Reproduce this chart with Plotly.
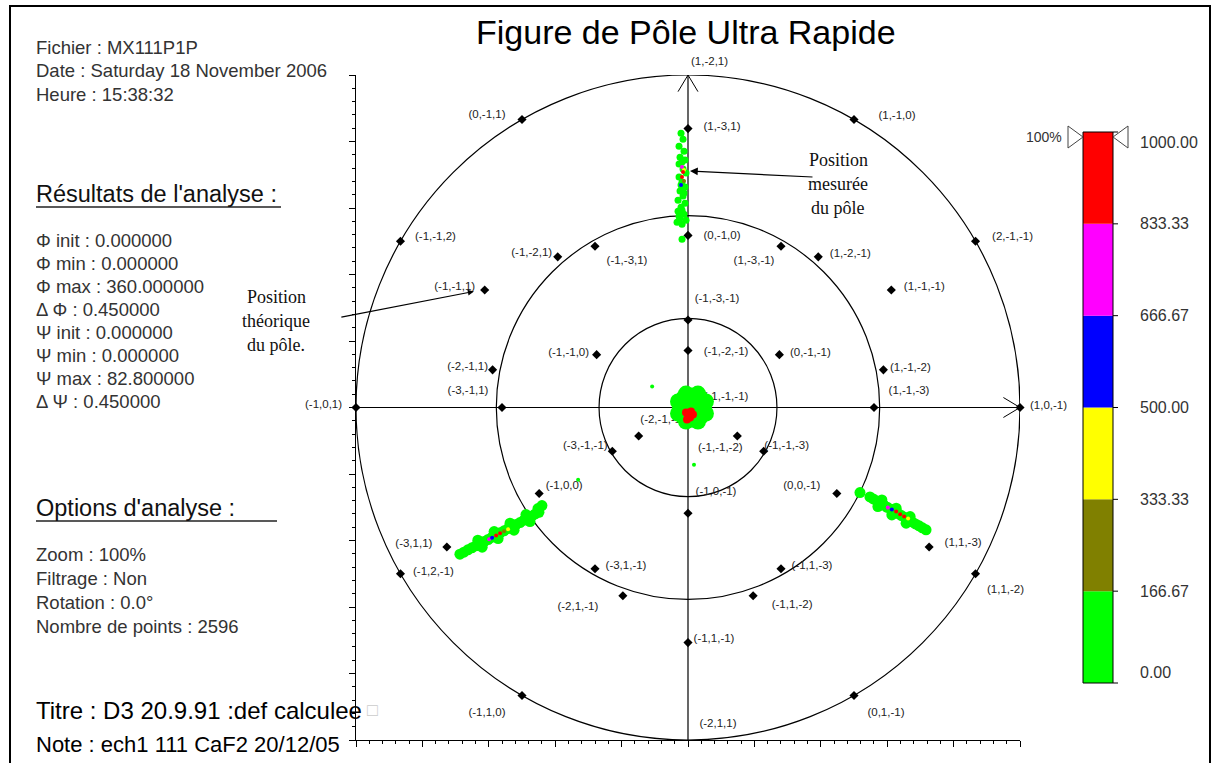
import numpy as np
import plotly.graph_objects as go

# ---------------------------------------------------------------- page geometry
W, H = 1220, 763
ML, MR, MT, MB = 356, 200, 75, 23
R = 100.0                      # radius of the primitive circle in data units
SCALE = (W - ML - MR) / (2 * R)  # pixels per data unit


def px(xp):
    """pixel x -> paper x"""
    return (xp - ML) / (W - ML - MR)


def py(yp):
    """pixel y -> paper y"""
    return (H - MB - yp) / (H - MT - MB)


FONT = "Liberation Sans, Arial, sans-serif"
SERIF = "Liberation Serif, Times New Roman, serif"

# ---------------------------------------------------------------- data
# projection frame: right, up and centre directions of the pole figure
axis_right = (1, 0, -1)
axis_up = (1, -2, 1)
axis_centre = (-1, -1, -1)

# cone angles of the reference circles (degrees)
cone_angles = [30, 60, 90]

# theoretical poles (Miller indices) and the text written next to them
pole_hkl = [
    (1, -2, 1), (0, -1, 1), (1, -1, 0), (1, -3, 1), (-1, -1, 2), (2, -1, -1),
    (-1, -2, 1), (-1, -3, 1), (0, -1, 0), (1, -3, -1), (1, -2, -1), (-1, -1, 1),
    (1, -1, -1), (-1, -3, -1), (-1, -1, 0), (-1, -2, -1), (0, -1, -1), (-2, -1, 1),
    (1, -1, -2), (-3, -1, 1), (-1, -1, -1), (1, -1, -3), (-1, 0, 1), (1, 0, -1),
    (-2, -1, -1), (-3, -1, -1), (-1, -1, -2), (-1, -1, -3), (-1, 0, 0), (0, 0, -1),
    (-1, 0, -1), (-3, 1, 1), (1, 1, -3), (-2, 1, 1), (1, 1, -2), (-3, 1, -1),
    (-1, 1, -3), (-2, 1, -1), (-1, 1, -2), (-1, 1, -1), (-1, 1, 0), (0, 1, -1),
    (-1, 2, -1),
]
pole_text = [
    "(1,-2,1)", "(0,-1,1)", "(1,-1,0)", "(1,-3,1)", "(-1,-1,2)", "(2,-1,-1)",
    "(-1,-2,1)", "(-1,-3,1)", "(0,-1,0)", "(1,-3,-1)", "(1,-2,-1)", "(-1,-1,1)",
    "(1,-1,-1)", "(-1,-3,-1)", "(-1,-1,0)", "(-1,-2,-1)", "(0,-1,-1)", "(-2,-1,1)",
    "(1,-1,-2)", "(-3,-1,1)", "(-1,-1,-1)", "(1,-1,-3)", "(-1,0,1)", "(1,0,-1)",
    "(-2,-1,-1)", "(-3,-1,-1)", "(-1,-1,-2)", "(-1,-1,-3)", "(-1,0,0)", "(0,0,-1)",
    "(-1,0,-1)", "(-3,1,1)", "(1,1,-3)", "(-1,2,-1)", "(1,1,-2)", "(-3,1,-1)",
    "(-1,1,-3)", "(-2,1,-1)", "(-1,1,-2)", "(-1,1,-1)", "(-1,1,0)", "(0,1,-1)",
    "(-2,1,1)",
]

# measured intensities -- north pole streak
top_x = [-2.1, -1.5, -2.7, -1.2, -2.4, -0.9, -2.7, -1.5, -0.6, -2.7, -1.8, -0.9, -2.4, -1.5, -3.0,
         -0.9, -2.1, -3.0, -1.2, -2.4, -3.3, -1.8, -0.6, -1.8, -1.8, -2.1, -1.2, -1.8, -2.7]
top_y = [82.5, 80.7, 78.6, 77.1, 75.3, 74.4, 73.2, 71.7, 70.5, 69.3, 67.8, 66.3, 65.1, 63.6, 62.3,
         61.4, 60.2, 59.0, 58.1, 56.9, 55.7, 55.1, 56.3, 50.6, 73.8, 66.9, 64.5, 59.3, 57.5]
top_v = [40, 75, 60, 110, 95, 130, 120, 150, 85, 140, 155, 120, 100, 135, 70,
         90, 115, 80, 105, 65, 45, 60, 50, 20, 145, 150, 125, 95, 70]
top_core_x = [-1.8, -1.2, -1.5, -1.8, -1.2, -2.1]
top_core_y = [72.3, 71.4, 70.8, 69.3, 68.1, 66.9]
top_core_v = [750, 420, 900, 920, 260, 580]

# centre pole
mid_x = [1.2, -1.5, 3.9, -1.5, 3.9, 1.2, 1.2, -2.4, 4.8, -0.6, 3.0, -0.6, 3.0, -3.0, 5.4, -3.0, 5.4,
         0.0, 2.4, 0.0, 2.4]
mid_y = [0.0, 2.7, 2.7, -2.7, -2.7, 3.6, -3.6, 0.0, 0.0, 4.2, 4.2, -4.2, -4.2, 1.8, 1.8, -1.8, -1.8,
         1.2, 1.2, -1.2, -1.2]
mid_v = [160, 150, 140, 155, 130, 120, 145, 150, 110, 90, 100, 120, 95, 80, 70, 90, 60,
         140, 135, 150, 145]
mid_core_x = [-0.6, 0.6, -0.3, 0.9, 0.0, 1.5]
mid_core_y = [-1.5, -3.0, -3.6, -1.2, -2.4, -2.1]
mid_core_v = [950, 930, 900, 880, 960, 910]

# isolated counts
stray_x = [-10.8, 1.8, -33.1]
stray_y = [6.3, -17.2, -21.7]
stray_v = [60, 40, 30]

# south-west streak
sw_x = [-68.7, -66.3, -63.9, -61.4, -59.0, -56.6, -54.2, -51.8, -49.4, -47.0, -44.9,
        -62.0, -63.3, -57.2, -58.4, -52.4, -53.6, -47.6, -48.8, -44.0, -45.2,
        -67.5, -65.1, -60.2, -55.4, -50.6, -46.0]
sw_y = [-44.1, -42.8, -41.6, -40.3, -39.0, -37.7, -36.4, -35.2, -33.9, -32.6, -31.5,
        -42.0, -39.9, -39.4, -37.3, -36.9, -34.8, -34.3, -32.2, -29.5, -30.4,
        -43.5, -42.2, -39.7, -37.1, -34.6, -32.0]
sw_v = [30, 60, 80, 110, 140, 150, 145, 120, 95, 70, 50,
        90, 85, 130, 135, 125, 115, 75, 65, 35, 40,
        45, 70, 125, 150, 110, 60]
sw_core_x = [-59.9, -59.0, -57.8, -56.6, -55.4, -54.2]
sw_core_y = [-39.6, -39.2, -38.5, -37.8, -37.2, -36.6]
sw_core_v = [760, 590, 880, 900, 250, 420]

# south-east streak
se_x = [51.8, 54.8, 56.9, 59.0, 61.1, 63.3, 65.4, 67.5, 69.6, 71.7, 58.4, 57.2, 62.7, 61.4, 66.9, 65.7,
        55.8, 60.0, 64.3, 68.5, 70.6]
se_y = [-25.6, -26.9, -28.1, -29.4, -30.6, -31.9, -33.1, -34.4, -35.6, -36.8,
        -27.8, -29.8, -30.3, -32.3, -32.8, -34.8,
        -27.5, -30.0, -32.5, -35.0, -36.2]
se_v = [30, 70, 100, 130, 150, 155, 140, 110, 80, 50, 90, 85, 135, 140, 120, 100,
        85, 140, 150, 95, 65]
se_core_x = [60.2, 61.4, 62.7, 63.9, 65.1, 66.3]
se_core_y = [-30.1, -30.7, -31.3, -32.1, -32.8, -33.4]
se_core_v = [740, 600, 890, 910, 870, 410]

# colour scale
scale_max = 1000.0
scale_colors = ["#00ff00", "#808000", "#ffff00", "#0000ff", "#ff00ff", "#ff0000"]
scale_ticks = [0.0, 166.67, 333.33, 500.0, 666.67, 833.33, 1000.0]

# header / side texts
info_lines = ["Fichier : MX111P1P", "Date : Saturday 18 November 2006", "Heure : 15:38:32"]
result_lines = ["\u03a6 init : 0.000000", "\u03a6 min : 0.000000", "\u03a6 max : 360.000000",
                "\u0394 \u03a6 : 0.450000", "\u03a8 init : 0.000000", "\u03a8 min : 0.000000",
                "\u03a8 max : 82.800000", "\u0394 \u03a8 : 0.450000"]
option_lines = ["Zoom : 100%", "Filtrage : Non", "Rotation : 0.0\u00b0", "Nombre de points : 2596"]

# ---------------------------------------------------------------- projection
def unit(v):
    v = np.asarray(v, dtype=float)
    return v / np.linalg.norm(v)


E1, E2, E3 = unit(axis_right), unit(axis_up), unit(axis_centre)


def stereo(hkl):
    v = unit(hkl)
    x, y, z = v @ E1, v @ E2, v @ E3
    return R * x / (1 + z), R * y / (1 + z)


pole_xy = np.array([stereo(h) for h in pole_hkl])

# label offsets in pixels (dx right, dy down)
label_offsets = [
    (21, -14), (-35, -4), (43, -3), (34, -1), (35, -4), (37, -4),
    (-26, -4), (32, 15), (34, 1), (-27, 15), (32, -3), (-30, -3),
    (33, -3), (29, -21), (-28, -2), (38, 2), (31, -2), (-25, -3),
    (27, -2), (-34, -16), (38, -10), (35, -16), (-33, -3), (28, -2),
    (24, -16), (-27, -5), (-17, 12), (23, -5), (25, -7), (-35, -7),
    (28, -21), (-33, -3), (34, -4), (33, -2), (30, 16), (31, -3),
    (31, -3), (-45, 11), (39, 9), (26, -3), (-35, 18), (32, 18),
    (30, -16),
]
lab_x = np.array([p[0] + o[0] / SCALE for p, o in zip(pole_xy, label_offsets)])
lab_y = np.array([p[1] - o[1] / SCALE for p, o in zip(pole_xy, label_offsets)])
inside = (np.abs(lab_x) <= R) & (np.abs(lab_y) <= R)

# ---------------------------------------------------------------- figure
colorscale = []
for i, c in enumerate(scale_colors):
    colorscale.append([i / len(scale_colors), c])
    colorscale.append([(i + 1) / len(scale_colors), c])

LABEL_FONT = dict(family=FONT, size=11.5, color="#222222")

fig = go.Figure()

fig.add_trace(go.Scatter(
    x=pole_xy[:, 0], y=pole_xy[:, 1], mode="markers",
    marker=dict(symbol="diamond", size=7, color="black"),
    hoverinfo="skip", showlegend=False, cliponaxis=False))

# labels inside the frame sit beneath the measured counts
fig.add_trace(go.Scatter(
    x=lab_x[inside], y=lab_y[inside], mode="text",
    text=[t for t, k in zip(pole_text, inside) if k], textposition="middle center",
    textfont=LABEL_FONT, hoverinfo="skip", showlegend=False, cliponaxis=False))


def counts(xs, ys, vs, size):
    fig.add_trace(go.Scatter(
        x=xs, y=ys, mode="markers",
        marker=dict(size=size, color=vs, coloraxis="coloraxis", line=dict(width=0)),
        hoverinfo="skip", showlegend=False))


counts(stray_x, stray_y, stray_v, 4)
counts(top_x, top_y, top_v, 7)
counts(top_core_x, top_core_y, top_core_v, 4)
counts(mid_x, mid_y, mid_v, 16)
counts(mid_core_x, mid_core_y, mid_core_v, 8)
counts(sw_x, sw_y, sw_v, 11)
counts(sw_core_x, sw_core_y, sw_core_v, 4)
counts(se_x, se_y, se_v, 11)
counts(se_core_x, se_core_y, se_core_v, 4)

shapes = []
# reference circles
for a in cone_angles:
    r = R * np.tan(np.radians(a) / 2)
    shapes.append(dict(type="circle", xref="x", yref="y", x0=-r, y0=-r, x1=r, y1=r,
                       line=dict(color="black", width=1.2), layer="below"))
# cross hairs with open arrow heads
shapes.append(dict(type="line", xref="x", yref="y", x0=0, y0=-R, x1=0, y1=R,
                   line=dict(color="black", width=1.2), layer="below"))
shapes.append(dict(type="line", xref="x", yref="y", x0=-R, y0=0, x1=R, y1=0,
                   line=dict(color="black", width=1.2), layer="below"))
head_w, head_l = 3.0, 5.0
for s in (-1, 1):
    shapes.append(dict(type="line", xref="x", yref="y", x0=0, y0=R, x1=s * head_w, y1=R - head_l,
                       line=dict(color="black", width=1), layer="below"))
    shapes.append(dict(type="line", xref="x", yref="y", x0=R, y0=0, x1=R - head_l, y1=s * head_w,
                       line=dict(color="black", width=1), layer="below"))

# outer frame
shapes.append(dict(type="rect", xref="paper", yref="paper", x0=px(10), y0=py(775), x1=px(1210), y1=py(6),
                   line=dict(color="black", width=2)))
# underlines of the section headings
for y_u, x_end in ((207, 281), (521, 277)):
    shapes.append(dict(type="line", xref="paper", yref="paper", x0=px(36), x1=px(x_end), y0=py(y_u), y1=py(y_u),
                       line=dict(color="#222222", width=1.5)))

# colour bar (pixels)
CB_L, CB_R, CB_T, CB_B = 1083, 1113, 132, 683


def cb_y(v):
    return CB_B - v / scale_max * (CB_B - CB_T)


for i, c in enumerate(scale_colors):
    shapes.append(dict(type="rect", xref="paper", yref="paper",
                       x0=px(CB_L), x1=px(CB_R), y0=py(cb_y(scale_ticks[i])), y1=py(cb_y(scale_ticks[i + 1])),
                       line=dict(width=0), fillcolor=c))
shapes.append(dict(type="rect", xref="paper", yref="paper", x0=px(CB_L), x1=px(CB_R),
                   y0=py(CB_B), y1=py(CB_T), line=dict(color="black", width=1)))
for v in scale_ticks:
    shapes.append(dict(type="line", xref="paper", yref="paper", x0=px(CB_R), x1=px(CB_R + 5),
                       y0=py(cb_y(v)), y1=py(cb_y(v)), line=dict(color="black", width=1)))

# 100% cursor triangles
tri_y = CB_T + 5
shapes.append(dict(type="path", xref="paper", yref="paper",
                   path=f"M {px(1068)} {py(tri_y - 11)} L {px(CB_L)} {py(tri_y)} L {px(1068)} {py(tri_y + 11)} Z",
                   line=dict(color="#444444", width=1), fillcolor="white"))
shapes.append(dict(type="path", xref="paper", yref="paper",
                   path=f"M {px(1128)} {py(tri_y - 11)} L {px(CB_R)} {py(tri_y)} L {px(1128)} {py(tri_y + 11)} Z",
                   line=dict(color="#444444", width=1), fillcolor="white"))

ann = []

# labels falling outside the frame, placed in paper units so they are not hidden
for xl, yl, t, k in zip(lab_x, lab_y, pole_text, inside):
    if not k:
        ann.append(dict(x=(xl + R) / (2 * R), y=(yl + R) / (2 * R), xref="paper", yref="paper",
                        text=t, showarrow=False, xanchor="center", yanchor="middle", font=LABEL_FONT))


def text(xp, yp, s, size, color="#333333", family=FONT, xanchor="left", yanchor="middle"):
    ann.append(dict(x=px(xp), y=py(yp), xref="paper", yref="paper", text=s, showarrow=False,
                    xanchor=xanchor, yanchor=yanchor, font=dict(family=family, size=size, color=color)))


text(686, 32, "Figure de P\u00f4le Ultra Rapide", 34, color="black", xanchor="center")
for i, s in enumerate(info_lines):
    text(34, 47 + 23.5 * i, s, 18.5)
text(34, 194, "R\u00e9sultats de l'analyse :", 23.5, color="#111111")
for i, s in enumerate(result_lines):
    text(34, 240 + 23 * i, s, 18.5)
text(34, 508, "Options d'analyse :", 23.5, color="#111111")
for i, s in enumerate(option_lines):
    text(34, 554 + 24 * i, s, 18.5)
text(34, 710, "Titre : D3 20.9.91 :def calculee", 24, color="black")
text(365, 710, "\u25a1", 18, color="#cccccc")
text(34, 744, "Note : ech1 111 CaF2 20/12/05", 22, color="black")

# annotations on the projection
for i, s in enumerate(["Position", "mesur\u00e9e", "du p\u00f4le"]):
    text(838, 160 + 24 * i, s, 18, color="#111111", family=SERIF, xanchor="center")
for i, s in enumerate(["Position", "th\u00e9orique", "du p\u00f4le."]):
    text(276, 297 + 24 * i, s, 18, color="#111111", family=SERIF, xanchor="center")

ann.append(dict(x=0.6, y=71.1, xref="x", yref="y", ax=124, ay=6, axref="pixel", ayref="pixel",
                text="", showarrow=True, arrowhead=2, arrowsize=1.3, arrowwidth=1.2, arrowcolor="black"))
ann.append(dict(x=-64.5, y=34.9, xref="x", yref="y", ax=-134, ay=26, axref="pixel", ayref="pixel",
                text="", showarrow=True, arrowhead=2, arrowsize=1.0, arrowwidth=1.2, arrowcolor="black"))

# colour bar labels
text(1064, tri_y, "100%", 14, xanchor="right")
for v in scale_ticks:
    ya = "middle"
    if v == scale_ticks[-1]:
        ya = "top"
    elif v == scale_ticks[0]:
        ya = "bottom"
    text(1138, cb_y(v), f"{v:.2f}", 16, yanchor=ya)

axis_common = dict(range=[-R, R], showgrid=False, zeroline=False, showticklabels=False,
                   showline=True, linecolor="black", linewidth=1.2,
                   ticks="outside", ticklen=6, tickcolor="black", tick0=-R, dtick=20,
                   minor=dict(ticks="outside", ticklen=3, dtick=4, tickcolor="black"),
                   fixedrange=True)

fig.update_layout(
    width=W, height=H, autosize=False,
    margin=dict(l=ML, r=MR, t=MT, b=MB, pad=0),
    paper_bgcolor="white", plot_bgcolor="white",
    xaxis=axis_common, yaxis=axis_common,
    shapes=shapes, annotations=ann, showlegend=False,
    coloraxis=dict(cmin=0, cmax=scale_max, colorscale=colorscale, showscale=False),
)

fig.write_html("out.html")
